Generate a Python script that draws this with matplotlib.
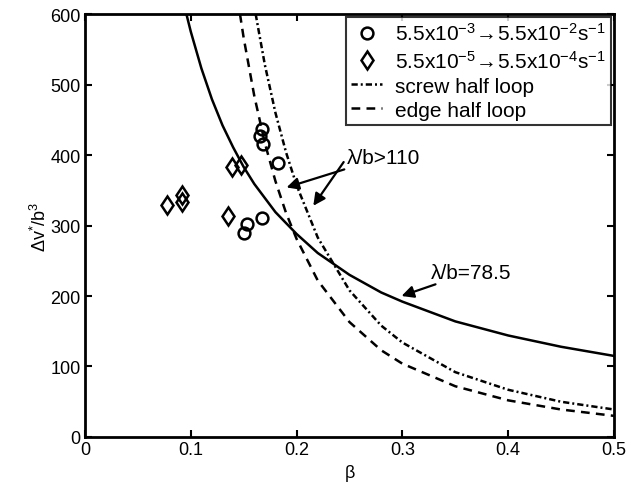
import matplotlib
matplotlib.use("Agg")
import matplotlib.pyplot as plt
from matplotlib.ticker import FuncFormatter

plt.rcParams['font.family'] = ['Liberation Sans', 'DejaVu Sans']
plt.rcParams['mathtext.fontset'] = 'custom'
plt.rcParams['mathtext.rm'] = 'Liberation Sans'
plt.rcParams['mathtext.it'] = 'Liberation Sans'
plt.rcParams['mathtext.default'] = 'regular'

# Data points
fast_beta = [0.1676, 0.1654, 0.1685, 0.1827, 0.1670, 0.1528, 0.1506]
fast_vol = [437, 427, 416, 389, 311, 302, 289]
slow_beta = [0.0772, 0.0914, 0.0914, 0.1386, 0.1470, 0.1348]
slow_vol = [329, 343, 334, 383, 386, 314]

# Curves
solid_beta = [0.096, 0.10, 0.11, 0.12, 0.13, 0.14, 0.15, 0.16, 0.18, 0.20, 0.22, 0.25, 0.28, 0.30, 0.35, 0.40, 0.45, 0.50]
solid_vol = [599, 575, 523, 479, 442, 411, 383, 359, 319, 288, 261, 230, 205, 192, 164, 144, 128, 115]

edge_beta = [0.1465, 0.15, 0.16, 0.17, 0.18, 0.19, 0.20, 0.22, 0.25, 0.28, 0.30, 0.35, 0.40, 0.45, 0.50]
edge_vol = [600, 566, 484, 417, 363, 318, 281, 222, 163, 123, 104, 72, 52, 39, 30]

screw_beta = [0.1613, 0.17, 0.18, 0.19, 0.20, 0.22, 0.25, 0.28, 0.30, 0.35, 0.40, 0.45, 0.50]
screw_vol = [600, 528, 460, 404, 357, 283, 208, 158, 134, 92, 67, 50, 39]

labels = [r'5.5x10$^{-3}$$\!\rightarrow\!$5.5x10$^{-2}$s$^{-1}$',
          r'5.5x10$^{-5}$$\!\rightarrow\!$5.5x10$^{-4}$s$^{-1}$',
          'screw half loop', 'edge half loop']

fig = plt.figure(figsize=(6.31, 4.89), dpi=100)
ax = fig.add_axes([0.1347, 0.1043, 0.973 - 0.1347, 0.9693 - 0.1043])

ax.plot(solid_beta, solid_vol, '-', color='k', lw=1.8)
l_screw, = ax.plot(screw_beta, screw_vol, color='k', lw=1.8, dashes=(2.5, 1.2, 0.8, 1.2))
l_edge, = ax.plot(edge_beta, edge_vol, color='k', lw=1.8, dashes=(3.5, 2.5))
m_fast, = ax.plot(fast_beta, fast_vol, 'o', mfc='none', mec='k', mew=1.8, ms=8.5, ls='none')
m_slow, = ax.plot(slow_beta, slow_vol, 'd', mfc='none', mec='k', mew=1.8, ms=9.5, ls='none')

ax.set_xlim(0, 0.5)
ax.set_ylim(0, 600)
ax.set_xticks([0, 0.1, 0.2, 0.3, 0.4, 0.5])
ax.set_yticks([0, 100, 200, 300, 400, 500, 600])
ax.xaxis.set_major_formatter(FuncFormatter(lambda v, p: '0' if v == 0 else f'{v:g}'))
ax.tick_params(direction='in', length=5, width=1.5, top=True, right=True, labelsize=13, pad=3)
for s in ax.spines.values():
    s.set_linewidth(2)

ax.set_xlabel('β', fontsize=13, labelpad=4)
ax.set_ylabel('Δv$^{*}$/b$^{3}$', fontsize=13, labelpad=0)

leg = ax.legend([m_fast, m_slow, l_screw, l_edge], labels, loc='upper right',
                fontsize=15, frameon=True, fancybox=False, handlelength=1.5,
                handletextpad=0.6, borderpad=0.25, labelspacing=0.25,
                borderaxespad=0.15, numpoints=1)
leg.get_frame().set_edgecolor('k')
leg.get_frame().set_linewidth(1.5)

arrow = dict(arrowstyle='-|>', color='k', lw=1.6, mutation_scale=18, shrinkA=0, shrinkB=0)
ax.annotate('λ/b>110', xy=(0.1905, 354), xytext=(0.2476, 397), fontsize=15,
            va='center', ha='left', arrowprops=arrow)
ax.annotate('', xy=(0.2158, 328), xytext=(0.2445, 390), arrowprops=arrow)
ax.annotate('λ/b=78.5', xy=(0.2992, 200), xytext=(0.327, 234), fontsize=15,
            va='center', ha='left', arrowprops=arrow)

fig.savefig('out.png', dpi=100)
